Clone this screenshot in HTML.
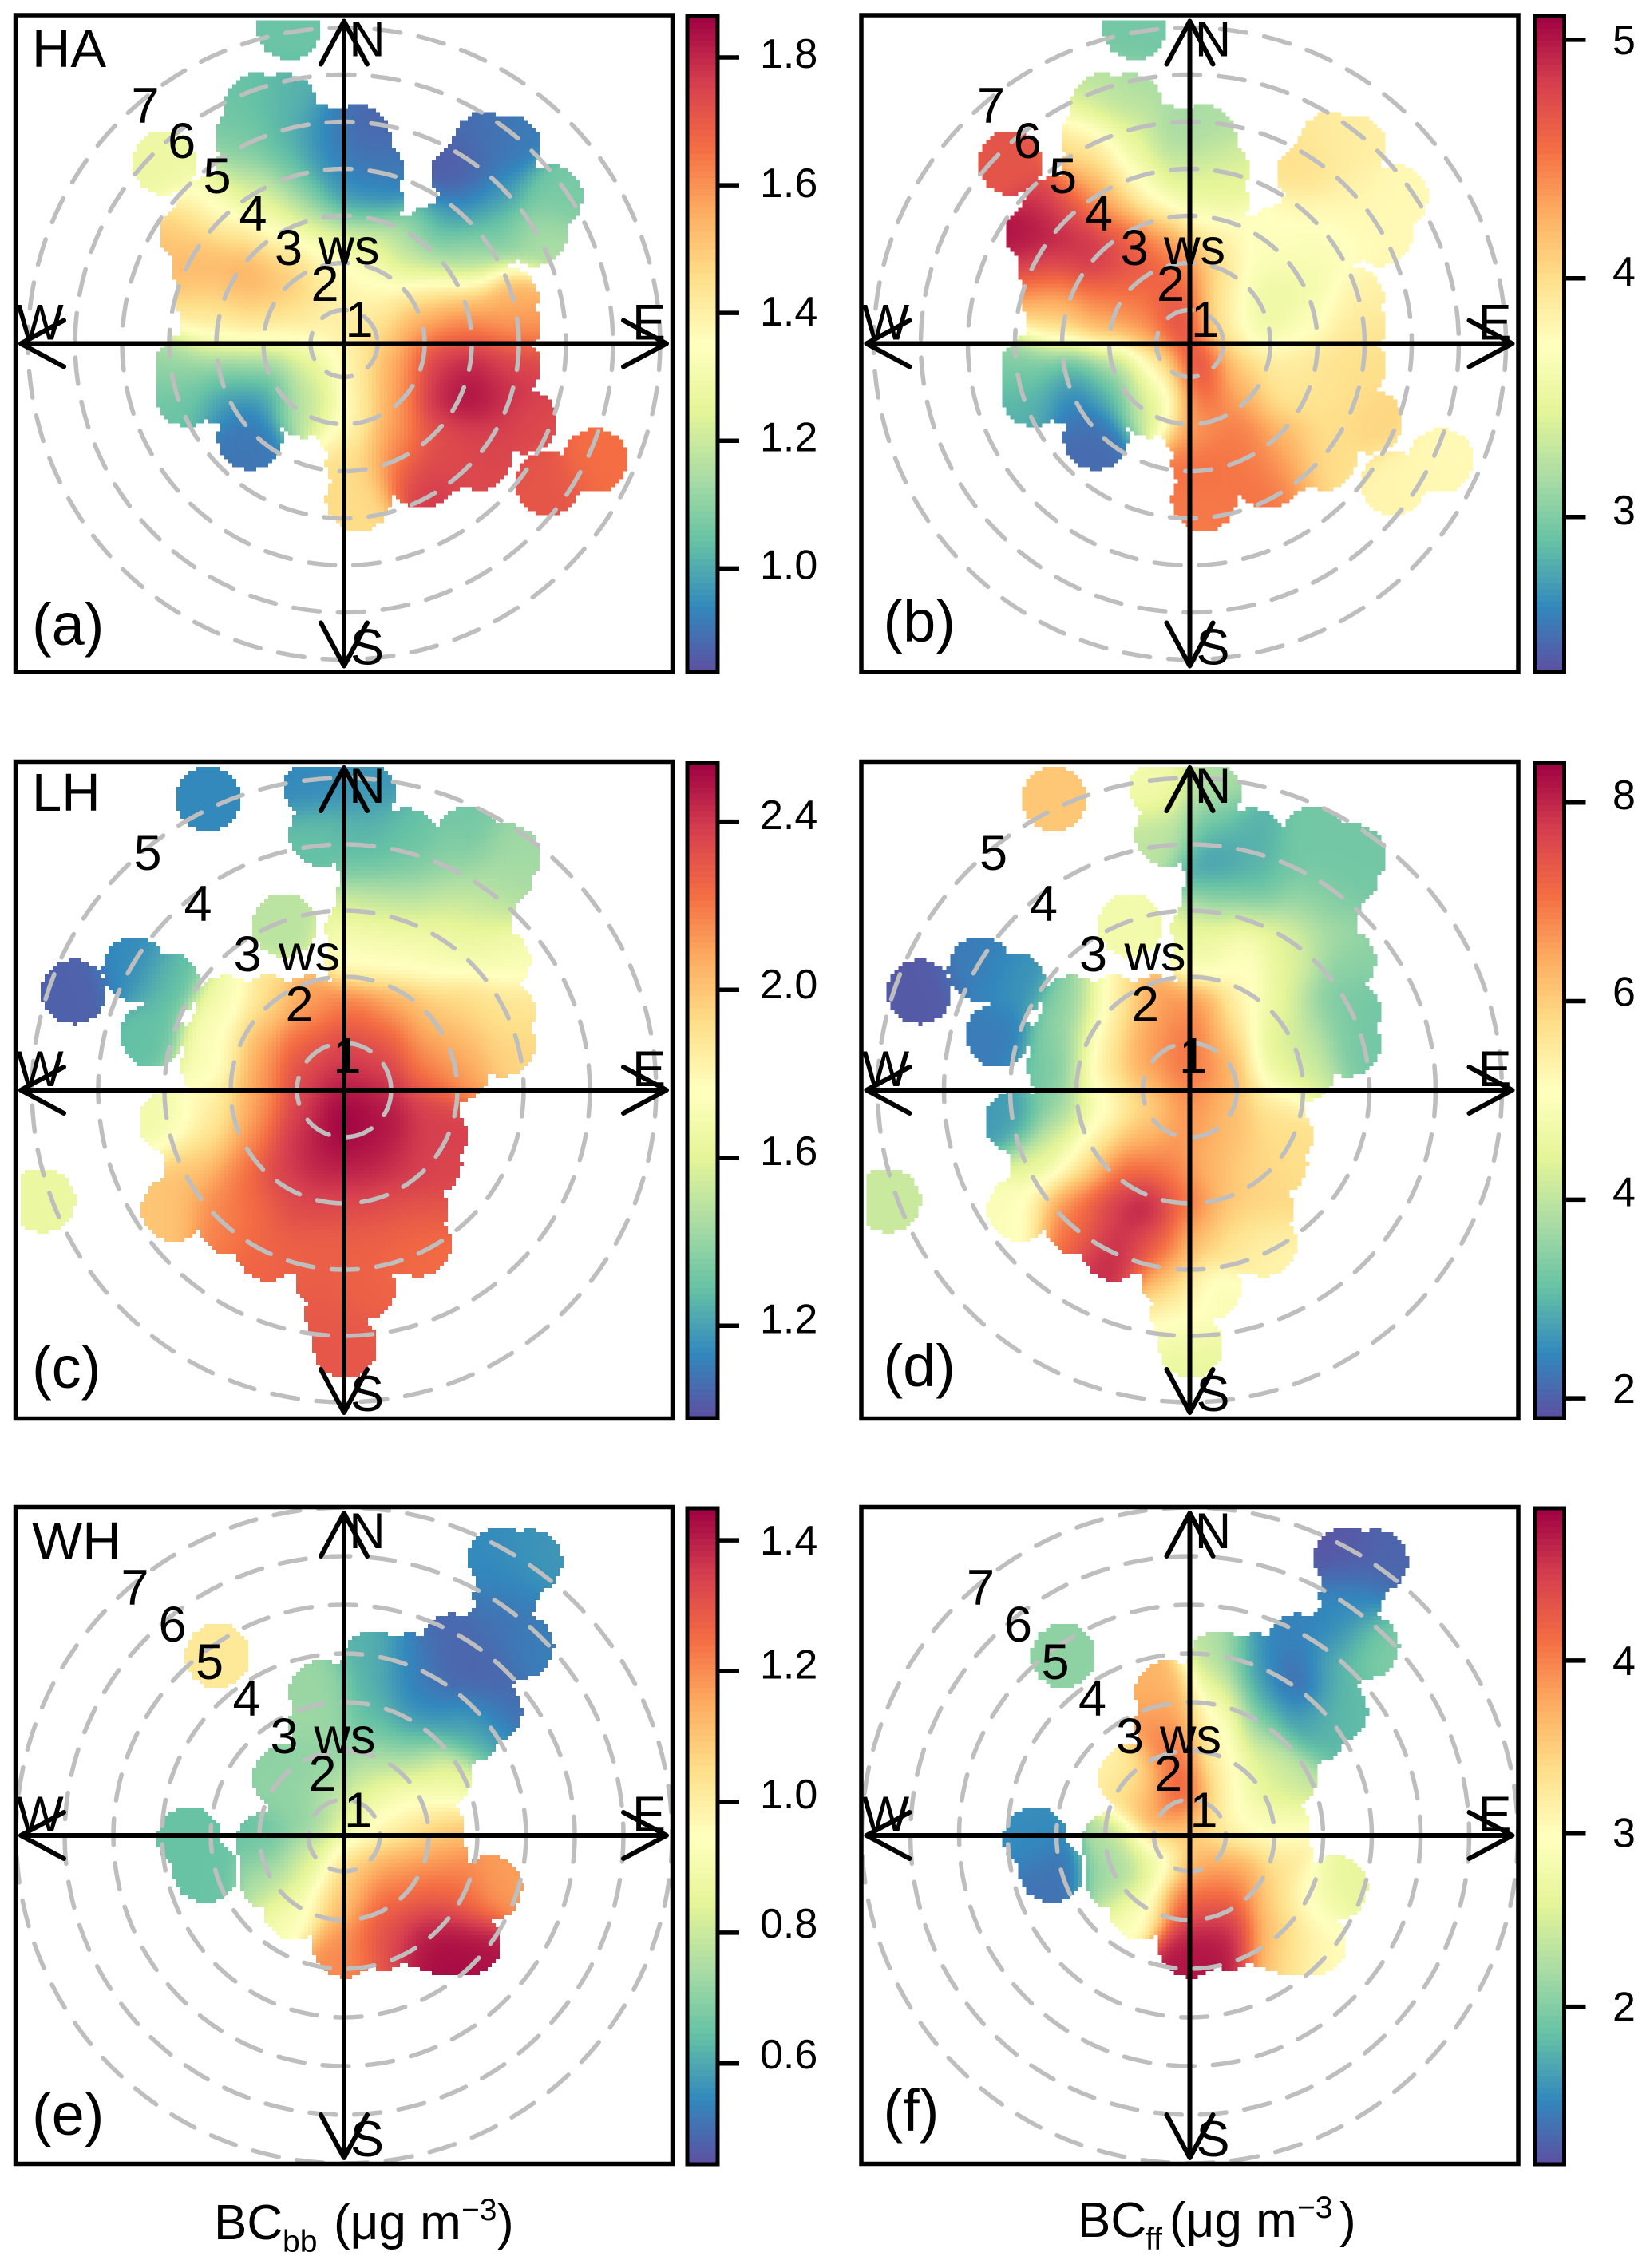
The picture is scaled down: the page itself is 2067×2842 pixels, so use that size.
<!DOCTYPE html>
<html lang="en">
<head>
<meta charset="utf-8">
<title>Bivariate polar plots of BCbb and BCff</title>
<style>
html,body{margin:0;padding:0;background:#fff}
svg{display:block}
text{font-family:"Liberation Sans",Arial,sans-serif;fill:#000}
.lab{font-size:63px;text-anchor:middle}
.tag{font-size:67px}
.par{font-size:74px}
.ax{font-size:62px}
.sub{font-size:39px}
</style>
</head>
<body>
<svg id="figure" xmlns="http://www.w3.org/2000/svg" width="2067" height="2842" viewBox="0 0 2067 2842">
<rect x="0" y="0" width="2067" height="2842" fill="#fff"/>
<g id="plot-layer"></g>

<g transform="translate(431,430.5)">
<text class="lab" x="29" y="-360">N</text>
<text class="lab" x="29" y="402">S</text>
<text class="lab" x="-381" y="-5">W</text>
<text class="lab" x="382" y="-5">E</text>
<text class="lab" x="-249" y="-276.5">7</text>
<text class="lab" x="-203.4" y="-232.5">6</text>
<text class="lab" x="-159" y="-188.5">5</text>
<text class="lab" x="-114" y="-141.5">4</text>
<text class="lab" x="-69.5" y="-98.5">3</text>
<text class="lab" x="-24" y="-53.5">2</text>
<text class="lab" x="19" y="-8.5">1</text>
<text class="lab" x="6" y="-99.5">ws</text>
<text class="tag" x="-391" y="-346.5">HA</text>
<text class="par" x="-391" y="377.5">(a)</text>
</g>

<g transform="translate(1490.5,430.5)">
<text class="lab" x="29" y="-360">N</text>
<text class="lab" x="29" y="402">S</text>
<text class="lab" x="-381" y="-5">W</text>
<text class="lab" x="382" y="-5">E</text>
<text class="lab" x="-249" y="-276.5">7</text>
<text class="lab" x="-203.4" y="-232.5">6</text>
<text class="lab" x="-159" y="-188.5">5</text>
<text class="lab" x="-114" y="-141.5">4</text>
<text class="lab" x="-69.5" y="-98.5">3</text>
<text class="lab" x="-24" y="-53.5">2</text>
<text class="lab" x="19" y="-8.5">1</text>
<text class="lab" x="6" y="-99.5">ws</text>
<text class="par" x="-384" y="373.5">(b)</text>
</g>

<g transform="translate(431,1366)">
<text class="lab" x="29" y="-360">N</text>
<text class="lab" x="29" y="402">S</text>
<text class="lab" x="-381" y="-5">W</text>
<text class="lab" x="382" y="-5">E</text>
<text class="lab" x="-246" y="-276">5</text>
<text class="lab" x="-183" y="-212">4</text>
<text class="lab" x="-121" y="-149">3</text>
<text class="lab" x="-56" y="-86">2</text>
<text class="lab" x="4" y="-21.5">1</text>
<text class="lab" x="-43.5" y="-150">ws</text>
<text class="tag" x="-391" y="-350">LH</text>
<text class="par" x="-391" y="373">(c)</text>
</g>

<g transform="translate(1490.5,1366)">
<text class="lab" x="29" y="-360">N</text>
<text class="lab" x="29" y="402">S</text>
<text class="lab" x="-381" y="-5">W</text>
<text class="lab" x="382" y="-5">E</text>
<text class="lab" x="-246" y="-276">5</text>
<text class="lab" x="-183" y="-212">4</text>
<text class="lab" x="-121" y="-149">3</text>
<text class="lab" x="-56" y="-86">2</text>
<text class="lab" x="4" y="-21.5">1</text>
<text class="lab" x="-43.5" y="-150">ws</text>
<text class="par" x="-384" y="371">(d)</text>
</g>

<g transform="translate(431,2300)">
<text class="lab" x="29" y="-360">N</text>
<text class="lab" x="29" y="402">S</text>
<text class="lab" x="-381" y="-5">W</text>
<text class="lab" x="382" y="-5">E</text>
<text class="lab" x="-262" y="-289">7</text>
<text class="lab" x="-215" y="-243">6</text>
<text class="lab" x="-168.5" y="-196">5</text>
<text class="lab" x="-122" y="-150">4</text>
<text class="lab" x="-75" y="-103">3</text>
<text class="lab" x="-27" y="-56">2</text>
<text class="lab" x="17.5" y="-10">1</text>
<text class="lab" x="1" y="-103">ws</text>
<text class="tag" x="-391" y="-346">WH</text>
<text class="par" x="-391" y="375">(e)</text>
</g>

<g transform="translate(1490.5,2300)">
<text class="lab" x="29" y="-360">N</text>
<text class="lab" x="29" y="402">S</text>
<text class="lab" x="-381" y="-5">W</text>
<text class="lab" x="382" y="-5">E</text>
<text class="lab" x="-262" y="-289">7</text>
<text class="lab" x="-215" y="-243">6</text>
<text class="lab" x="-168.5" y="-196">5</text>
<text class="lab" x="-122" y="-150">4</text>
<text class="lab" x="-75" y="-103">3</text>
<text class="lab" x="-27" y="-56">2</text>
<text class="lab" x="17.5" y="-10">1</text>
<text class="lab" x="1" y="-103">ws</text>
<text class="par" x="-384" y="370">(f)</text>
</g>

<text class="ax" y="2806"><tspan x="268">BC</tspan><tspan class="sub" x="354" dy="16">bb</tspan><tspan x="418" dy="-16">(μg m</tspan><tspan class="sub" x="578" dy="-24">−3</tspan><tspan x="623" dy="24">)</tspan></text>
<text class="ax" y="2803"><tspan x="1350">BC</tspan><tspan class="sub" x="1435" dy="16">ff</tspan><tspan x="1465" dy="-16">(μg m</tspan><tspan class="sub" x="1625" dy="-24">−3</tspan><tspan x="1678" dy="24">)</tspan></text>
</svg>

<script>
// Wind-sector samples for site HA (east / north wind components) and BC readings
const haEast=[-1.17,-1.85,-1.26,-2.05,-1.26,-.48,.30,-2.05,-1.15,-.26,.58,-1.60,-.82,-.03,.58,-3.81,-3.22,-2.27,-1.38,-.48,.41,1.31,-3.0,-2.05,-1.15,-.26,.64,1.53,2.54,-2.89,-1.99,-1.10,-.20,.69,1.64,2.54,3.43,-2.83,-1.94,-1.04,-.15,.75,1.64,2.54,3.49,-3.33,-2.49,-1.60,-.70,.19,1.08,1.98,2.76,3.49,-3.33,-2.49,-1.60,-.70,.19,1.08,1.98,2.65,3.32,-1.99,-.82,.08,1.08,1.98,2.87,3.83,.30,1.20,2.09,2.87,.30,1.64,4.33,5.34,2.54,2.99,3.49,4.38,4.05,3.32,2.54,1.87,2.65,3.32,-2.86,-2.22];
const haNorth=[6.71,5.06,5.06,4.38,4.38,4.38,4.38,3.70,3.70,3.70,3.70,3.02,3.02,3.02,3.02,3.84,2.33,2.33,2.33,2.33,2.33,2.04,1.65,1.65,1.65,1.65,1.65,1.65,1.65,.97,.97,.97,.97,.97,.97,.97,.97,.39,.39,.39,.39,.39,.39,.39,.39,-.49,-.49,-.49,-.49,-.49,-.49,-.49,-.49,-.49,-1.07,-1.07,-1.07,-1.07,-1.07,-1.07,-1.07,-1.07,-1.07,-1.99,-1.31,-1.75,-1.95,-1.95,-1.95,-1.65,-2.53,-2.53,-2.53,-2.43,-3.31,-2.82,-2.97,-2.48,3.60,4.23,4.18,3.11,2.33,3.11,2.72,2.24,2.04,2.33,2.86,3.06];
const haBB=[1.05,1.05,1.01,1.07,1.02,.94,.88,1.12,1.05,.94,.91,1.25,1.12,.96,.94,1.28,1.51,1.45,1.35,1.27,1.23,1.15,1.54,1.56,1.49,1.38,1.32,1.25,1.15,1.49,1.54,1.51,1.40,1.37,1.43,1.50,1.53,1.38,1.40,1.38,1.40,1.46,1.61,1.66,1.61,1.13,1.15,1.15,1.27,1.40,1.56,1.76,1.80,1.74,1.05,.94,.94,1.18,1.40,1.58,1.80,1.87,1.80,.91,1.18,1.38,1.58,1.73,1.76,1.74,1.46,1.63,1.73,1.74,1.46,1.79,1.71,1.66,.86,.89,.92,1.07,1.15,.97,.94,1.01,1.12,1.07,1.35,1.27];
const haFF=[2.96,3.26,3.18,3.92,3.51,3.12,3.18,4.06,3.64,3.31,3.40,4.14,3.73,3.51,3.51,4.69,5.05,4.91,4.69,4.33,3.86,3.73,4.77,4.88,4.69,4.55,4.06,3.59,3.64,4.33,4.50,4.55,4.69,3.86,3.51,3.53,3.83,3.95,4.22,4.33,4.83,3.86,3.51,3.73,3.95,3.04,2.90,3.26,3.95,4.88,4.00,3.86,3.95,4.00,2.82,2.54,2.74,3.59,4.63,4.33,3.95,3.95,4.00,2.49,3.26,4.33,4.50,4.22,4.00,4.06,4.55,4.50,4.28,4.00,4.50,4.55,3.81,3.78,4.00,3.92,3.86,3.78,3.78,3.83,3.78,3.73,3.64,3.73,4.83,4.55];

// Wind-sector samples for site LH
const lhEast=[-2.05,-4.08,-3.16,-2.65,-2.89,-4.55,-.42,.29,-.34,.37,.93,1.88,2.48,.37,1.01,1.65,2.36,.37,1.01,1.65,2.12,-.90,.21,.85,1.49,2.04,.21,.85,1.49,2.32,-1.77,-1.14,-.50,.14,.77,1.41,1.96,2.40,-1.93,-1.30,-.66,-.02,.61,1.25,1.80,2.40,-1.97,-1.30,-.66,-.02,.61,1.25,1.72,-2.61,-1.93,-1.30,-.66,-.02,.61,1.25,-2.01,-1.38,-.74,-.02,.61,1.37,-2.25,-1.61,-.98,-.34,.29,.93,1.29,-2.57,-1.93,-1.30,-.66,-.02,.61,1.09,-1.14,-.50,.14,.77,1.13,-1.69,-.26,.29,-.10,.02];
const lhNorth=[4.39,1.48,1.82,1.59,.83,-1.66,4.56,4.50,3.87,3.94,3.77,3.80,3.53,3.46,3.35,3.39,3.25,2.90,2.90,2.84,2.84,2.49,2.42,2.39,2.35,2.35,1.94,1.94,1.94,1.94,1.24,1.24,1.24,1.24,1.24,1.24,1.24,1.18,.76,.76,.76,.76,.76,.76,.76,.69,.35,.28,.28,.28,.28,.28,.31,-.48,-.28,-.21,-.21,-.21,-.21,-.21,-.76,-.69,-.69,-.69,-.69,-.69,-1.18,-1.18,-1.18,-1.18,-1.18,-1.18,-1.11,-1.80,-1.73,-1.73,-1.73,-1.73,-1.73,-1.80,-2.39,-2.35,-2.28,-2.28,-2.32,-2.01,-2.84,-2.97,-3.39,-3.87];
const lhBB=[1.14,1.03,1.14,1.29,1.29,1.64,1.14,1.17,1.29,1.25,1.29,1.32,1.42,1.29,1.34,1.39,1.45,1.49,1.49,1.53,1.49,1.49,1.68,1.65,1.64,1.64,1.76,1.76,1.73,1.71,1.68,1.92,2.10,2.20,2.07,1.96,1.92,1.88,1.73,2.07,2.26,2.35,2.31,2.10,2.04,1.95,1.71,2.10,2.35,2.42,2.38,2.20,2.10,1.68,1.84,2.10,2.38,2.54,2.49,2.38,1.88,2.15,2.43,2.54,2.49,2.38,2.00,2.20,2.38,2.46,2.46,2.42,2.35,2.00,2.15,2.26,2.35,2.35,2.34,2.31,2.26,2.27,2.27,2.26,2.23,2.20,2.28,2.26,2.30,2.30];
const lhFF=[6.09,1.93,2.33,2.59,2.33,4.11,4.77,3.78,3.98,3.12,2.92,3.25,3.25,2.59,2.92,3.25,3.25,3.32,3.25,3.58,3.38,4.77,4.57,4.77,4.44,3.78,4.77,5.23,4.31,3.45,3.45,5.43,6.55,6.75,5.23,4.57,3.45,3.25,3.45,5.43,6.55,7.08,6.09,4.31,4.11,3.25,3.25,5.63,6.55,7.08,6.55,4.57,4.18,2.66,3.45,4.90,5.76,6.75,6.22,5.63,4.31,5.43,6.29,6.62,6.22,5.76,4.44,5.76,7.21,6.95,6.29,5.96,5.76,4.97,6.55,7.74,8.20,7.08,6.09,5.89,7.94,7.41,6.09,5.63,5.30,7.21,6.09,4.90,5.23,4.57];

// Wind-sector samples for site WH
const whEast=[3.21,3.81,3.32,3.10,3.64,2.24,1.37,.62,2.89,2.24,1.48,.62,-.46,2.99,2.24,1.48,.62,-.46,-1.22,-.36,.62,1.48,2.56,1.97,-1.01,-.14,.72,1.48,-1.55,-.68,.18,1.05,1.81,-1.49,-.68,.18,1.05,1.91,2.99,-1.01,-.03,.83,1.70,2.45,.02,.83,1.70,2.56,2.02,-3.17,-2.84,-2.59];
const whNorth=[5.67,5.62,4.91,4.20,3.89,3.89,3.49,3.54,3.38,3.18,2.88,2.88,2.93,2.57,2.47,2.27,2.27,2.27,1.20,1.55,1.55,1.66,2.16,1.25,.95,.84,.84,.84,-.17,.23,.13,.18,.13,-.88,-.58,-.68,-.68,-.58,-1.09,-1.49,-1.39,-1.39,-1.39,-1.39,-2.26,-2.10,-2.10,-2.21,-2.21,-.07,-.73,3.69];
const whBB=[.55,.57,.53,.50,.53,.49,.53,.62,.48,.48,.53,.62,.72,.50,.55,.58,.65,.73,.70,.70,.75,.72,.65,.88,.72,.78,.88,.92,.65,.70,.90,1.00,1.07,.75,.85,1.10,1.17,1.20,1.17,.92,1.10,1.27,1.28,1.27,1.20,1.32,1.40,1.42,1.45,.65,.65,1.02];
const whFF=[1.13,1.24,1.50,1.43,2.00,1.43,1.50,2.30,1.81,1.13,1.62,2.76,3.70,1.81,1.43,2.00,3.13,3.89,3.02,4.20,3.13,2.57,1.81,2.38,3.70,4.46,3.13,2.64,2.26,3.78,3.40,3.02,2.87,2.11,2.64,3.78,3.78,3.32,2.64,2.95,4.27,4.27,3.44,2.95,4.76,4.76,3.70,3.02,3.32,1.50,1.32,2.07];

// Colour-bar tick labels per panel
const ticksA=["1.0","1.2","1.4","1.6","1.8"];
const ticksB=["3","4","5"];
const ticksC=["1.2","1.6","2.0","2.4"];
const ticksD=["2","4","6","8"];
const ticksE=["0.6","0.8","1.0","1.2","1.4"];
const ticksF=["2","3","4"];

// Wind-speed rings per site
const ringsHA=[1,2,3,4,5,6,7];
const ringsLH=[1,2,3,4,5];
const ringsWH=[1,2,3,4,5,6,7];

// Spectral colour ramp (low to high)
const rampStops=["#5E4FA2","#3288BD","#66C2A5","#ABDDA4","#E6F598","#FFFFBF","#FEE08B","#FDAE61","#F46D43","#D53E4F","#9E0142"];

const SVGNS='http://www.w3.org/2000/svg';
const layer=document.getElementById('plot-layer');
const rampRGB=rampStops.map(function(h){return [parseInt(h.slice(1,3),16),parseInt(h.slice(3,5),16),parseInt(h.slice(5,7),16)];});

function rampColor(t){
  t=Math.max(0,Math.min(1,t));
  const f=t*(rampRGB.length-1);
  const i=Math.min(rampRGB.length-2,Math.floor(f));
  const k=f-i,a=rampRGB[i],b=rampRGB[i+1];
  return 'rgb('+Math.round(a[0]+(b[0]-a[0])*k)+','+Math.round(a[1]+(b[1]-a[1])*k)+','+Math.round(a[2]+(b[2]-a[2])*k)+')';
}
function make(tag,attrs,parent){
  const el=document.createElementNS(SVGNS,tag);
  for(const k in attrs){el.setAttribute(k,attrs[k]);}
  parent.appendChild(el);
  return el;
}

const DISC_RADIUS=40.5, KERNEL=25, CELL=5, HALF=405;

function drawPanel(p){
  const group=make('g',{},layer);
  
  

  const xOf=function(e){return p.cx+e*p.unit;};
  const yOf=function(n){return p.cy-n*p.unit;};
  const tOf=function(v){return (v-p.min)/(p.max-p.min);};
  const barY=function(v){return p.barBottom-tOf(v)*(p.barBottom-p.barTop);};
  const ringR=function(s){return p.unit*s+p.ringOffset;};

  // heatmap
  const cells=make('g',{'shape-rendering':'crispEdges'},group);
  
  
  const px=p.east.map(xOf), py=p.north.map(yOf);
  const frag=document.createDocumentFragment();
  for(let gy=-HALF;gy<HALF;gy+=CELL){
    for(let gx=-HALF;gx<HALF;gx+=CELL){
      const x=p.cx+gx+CELL/2, y=p.cy+gy+CELL/2;
      let sw=0,sv=0,inside=false;
      for(let i=0;i<px.length;i++){
        const dx=x-px[i],dy=y-py[i],d2=dx*dx+dy*dy;
        if(d2<=DISC_RADIUS*DISC_RADIUS){inside=true;}
        const w=Math.exp(-d2/(2*KERNEL*KERNEL));
        sw+=w;sv+=w*p.values[i];
      }
      if(!inside){continue;}
      const cell=document.createElementNS(SVGNS,'rect');
      cell.setAttribute('x',p.cx+gx);
      cell.setAttribute('y',p.cy+gy);
      cell.setAttribute('width',CELL);
      cell.setAttribute('height',CELL);
      cell.setAttribute('fill',rampColor(tOf(sv/sw)));
      
      
      frag.appendChild(cell);
    }
  }
  cells.appendChild(frag);

  // wind-speed rings
  p.rings.forEach(function(s){
    const ring=make('circle',{cx:p.cx,cy:p.cy,r:ringR(s),fill:'none',stroke:'#BEBEBE','stroke-width':5.5,'stroke-linecap':'round','stroke-dasharray':'33 23'},group);
    
    
  });

  // compass axes with arrow heads
  const axes=make('path',{
    d:'M'+(p.cx-405)+' '+p.cy+'H'+(p.cx+404)+
      'M'+p.cx+' '+(p.cy-404)+'V'+(p.cy+404)+
      'M'+(p.cx-351)+' '+(p.cy-29)+'L'+(p.cx-405)+' '+p.cy+'L'+(p.cx-351)+' '+(p.cy+29)+
      'M'+(p.cx+350)+' '+(p.cy-29)+'L'+(p.cx+404)+' '+p.cy+'L'+(p.cx+350)+' '+(p.cy+29)+
      'M'+(p.cx-29)+' '+(p.cy-350)+'L'+p.cx+' '+(p.cy-404)+'L'+(p.cx+29)+' '+(p.cy-350)+
      'M'+(p.cx-29)+' '+(p.cy+350)+'L'+p.cx+' '+(p.cy+404)+'L'+(p.cx+29)+' '+(p.cy+350),
    fill:'none',stroke:'#000','stroke-width':6,'stroke-linecap':'round','stroke-linejoin':'round'
  },group);
  
  

  // frame
  const frame=make('rect',{x:p.cx-411.5,y:p.cy-411.5,width:823,height:823,fill:'none',stroke:'#000','stroke-width':5.5},group);
  
  

  // colour bar
  const bar=make('g',{'shape-rendering':'crispEdges'},group);
  
  
  const steps=110;
  for(let i=0;i<steps;i++){
    const lo=p.min+(p.max-p.min)*i/steps, hi=p.min+(p.max-p.min)*(i+1)/steps;
    const strip=make('rect',{x:p.barX,y:barY(hi),width:p.barW,height:barY(lo)-barY(hi)+1,fill:rampColor((i+.5)/steps)},bar);
    
    
  }
  const barFrame=make('rect',{x:p.barX,y:p.barTop,width:p.barW,height:p.barBottom-p.barTop,fill:'none',stroke:'#000','stroke-width':5},group);
  
  

  p.ticks.forEach(function(label,i){
    const y=barY(parseFloat(label));
    const tick=make('line',{x1:p.barX+p.barW,x2:p.barX+p.barW+27,y1:y,y2:y,stroke:'#000','stroke-width':5.5},group);
    
    
    const txt=make('text',{x:p.tickTextX,y:y+13+p.nudge[i],'font-size':52},group);
    
    
    txt.textContent=label;
  });
}

const leftBar={barX:861,barW:38,tickTextX:952};
const rightBar={barX:1922.5,barW:37,tickTextX:2020};

drawPanel(Object.assign({cx:431,cy:430.5,unit:59,ringOffset:-17,east:haEast,north:haNorth,values:haBB,rings:ringsHA,ticks:ticksA,min:.838,max:1.865,barTop:20,barBottom:842,nudge:[0,0,3,2,0]},leftBar));
drawPanel(Object.assign({cx:1490.5,cy:430.5,unit:59,ringOffset:-17,east:haEast,north:haNorth,values:haFF,rings:ringsHA,ticks:ticksB,min:2.35,max:5.1,barTop:20,barBottom:842,nudge:[-3.6,-3.6,5]},rightBar));
drawPanel(Object.assign({cx:431,cy:1366,unit:83,ringOffset:-24,east:lhEast,north:lhNorth,values:lhBB,rings:ringsLH,ticks:ticksC,min:.98,max:2.54,barTop:956,barBottom:1777,nudge:[-3.6,-3.6,-2,-3.6]},leftBar));
drawPanel(Object.assign({cx:1490.5,cy:1366,unit:83,ringOffset:-24,east:lhEast,north:lhNorth,values:lhFF,rings:ringsLH,ticks:ticksD,min:1.8,max:8.4,barTop:956,barBottom:1777,nudge:[-7,-5,-7,-5]},rightBar));
drawPanel(Object.assign({cx:431,cy:2300,unit:61,ringOffset:-16,east:whEast,north:whNorth,values:whBB,rings:ringsWH,ticks:ticksE,min:.446,max:1.449,barTop:1890,barBottom:2712,nudge:[-7,-7,-5,-3.6,5]},leftBar));
drawPanel(Object.assign({cx:1490.5,cy:2300,unit:61,ringOffset:-16,east:whEast,north:whNorth,values:whFF,rings:ringsWH,ticks:ticksF,min:1.09,max:4.88,barTop:1890,barBottom:2712,nudge:[5,4,5]},rightBar));
</script>
</body>
</html>
